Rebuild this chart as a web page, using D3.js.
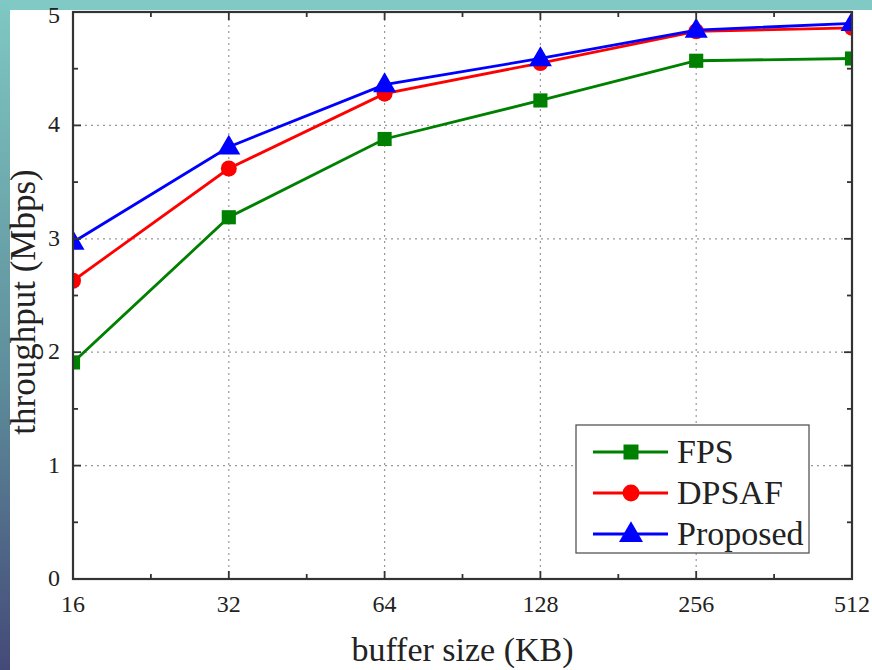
<!DOCTYPE html>
<html>
<head>
<meta charset="utf-8">
<script src="https://cdn.jsdelivr.net/npm/d3@7"></script>
<style>
  body { margin: 0; background: #fff; }
  svg { display: block; }
</style>
</head>
<body>
<script>
// datos
const bufferSizes = [16, 32, 64, 128, 256, 512];
const fps = [1.91, 3.19, 3.88, 4.22, 4.57, 4.59];
const dpsaf = [2.63, 3.62, 4.28, 4.55, 4.83, 4.86];
const proposed = [2.97, 3.81, 4.36, 4.59, 4.84, 4.90];
const yTicks = [0, 1, 2, 3, 4, 5];
const seriesNames = ["FPS", "DPSAF", "Proposed"];

const width = 872;
const height = 670;
const margin = { top: 12, right: 20, bottom: 91, left: 73 };

const svg = d3.select("body").append("svg")
  .attr("width", width)
  .attr("height", height);

// fondo de la diapositiva (franja arriba e izquierda)
const defs = svg.append("defs");
const grad = defs.append("linearGradient")
  .attr("id", "franja").attr("x1", 0).attr("y1", 0).attr("x2", 0).attr("y2", 1);
grad.append("stop").attr("offset", "0%").attr("stop-color", "#7fc8c3");
grad.append("stop").attr("offset", "55%").attr("stop-color", "#5f8f9c");
grad.append("stop").attr("offset", "100%").attr("stop-color", "#444a78");
svg.append("rect").attr("x", 0).attr("y", 0).attr("width", width).attr("height", 10).attr("fill", "#80c9c4");
svg.append("rect").attr("x", 0).attr("y", 0).attr("width", 10).attr("height", height).attr("fill", "url(#franja)");

const x = d3.scaleLog().base(2)
  .domain([16, 512])
  .range([margin.left, width - margin.right]);
const y = d3.scaleLinear()
  .domain([0, 5])
  .range([height - margin.bottom, margin.top]);

const x0 = x.range()[0], x1 = x.range()[1];
const y0 = y.range()[0], y1 = y.range()[1];
const minorX = bufferSizes.slice(0, -1).map(v => v * Math.SQRT2);
const minorY = yTicks.slice(0, -1).map(v => v + 0.5);

// rejilla punteada
const grid = svg.append("g")
  .attr("stroke", "#999").attr("stroke-width", 1.2).attr("stroke-dasharray", "2,4");
grid.selectAll(".gx").data(bufferSizes.slice(1, -1)).enter().append("line")
  .attr("x1", d => x(d)).attr("x2", d => x(d)).attr("y1", y0).attr("y2", y1);
grid.selectAll(".gy").data(yTicks.slice(1, -1)).enter().append("line")
  .attr("x1", x0).attr("x2", x1).attr("y1", d => y(d)).attr("y2", d => y(d));

// series
const colores = ["#008000", "#ff0000", "#0000ff"];
const valores = [fps, dpsaf, proposed];
defs.append("clipPath").attr("id", "area")
  .append("rect").attr("x", x0).attr("y", y1 - 20).attr("width", x1 - x0).attr("height", y0 - y1 + 20);

const plot = svg.append("g").attr("clip-path", "url(#area)");
const line = d3.line().x((d, i) => x(bufferSizes[i])).y(d => y(d));
const simbolos = [d3.symbolSquare, d3.symbolCircle, d3.symbolTriangle];
const tamaños = [200, 200, 230];

valores.forEach((serie, k) => {
  plot.append("path")
    .datum(serie)
    .attr("fill", "none")
    .attr("stroke", colores[k])
    .attr("stroke-width", 2.8)
    .attr("d", line);
  plot.selectAll(".m" + k).data(serie).enter().append("path")
    .attr("transform", (d, i) => `translate(${x(bufferSizes[i])},${y(d) + (k === 2 ? 1 : 0)})`)
    .attr("d", d3.symbol().type(simbolos[k]).size(tamaños[k]))
    .attr("fill", colores[k]);
});

// ejes (ticks hacia dentro)
const ejes = svg.append("g").attr("stroke", "#333").attr("fill", "none");
ejes.append("rect")
  .attr("x", x0).attr("y", y1).attr("width", x1 - x0).attr("height", y0 - y1)
  .attr("stroke-width", 2.2);
const tk = ejes.append("g").attr("stroke-width", 1.8);
bufferSizes.slice(1, -1).forEach(v => {
  tk.append("line").attr("x1", x(v)).attr("x2", x(v)).attr("y1", y0).attr("y2", y0 - 8);
  tk.append("line").attr("x1", x(v)).attr("x2", x(v)).attr("y1", y1).attr("y2", y1 + 8);
});
minorX.forEach(v => {
  tk.append("line").attr("x1", x(v)).attr("x2", x(v)).attr("y1", y0).attr("y2", y0 - 5);
  tk.append("line").attr("x1", x(v)).attr("x2", x(v)).attr("y1", y1).attr("y2", y1 + 5);
});
yTicks.slice(1, -1).forEach(v => {
  tk.append("line").attr("x1", x0).attr("x2", x0 + 8).attr("y1", y(v)).attr("y2", y(v));
  tk.append("line").attr("x1", x1).attr("x2", x1 - 8).attr("y1", y(v)).attr("y2", y(v));
});
minorY.forEach(v => {
  tk.append("line").attr("x1", x0).attr("x2", x0 + 5).attr("y1", y(v)).attr("y2", y(v));
  tk.append("line").attr("x1", x1).attr("x2", x1 - 5).attr("y1", y(v)).attr("y2", y(v));
});

// etiquetas
const fuente = "'Liberation Serif', 'Times New Roman', serif";
svg.selectAll(".lx").data(bufferSizes).enter().append("text")
  .attr("x", d => x(d)).attr("y", y0 + 33)
  .attr("text-anchor", "middle")
  .attr("font-family", fuente).attr("font-size", 24).attr("fill", "#222")
  .text(d => d);
svg.selectAll(".ly").data(yTicks).enter().append("text")
  .attr("x", x0 - 13).attr("y", d => Math.max(y(d) + 7, 23))
  .attr("text-anchor", "end")
  .attr("font-family", fuente).attr("font-size", 24).attr("fill", "#222")
  .text(d => d);

svg.append("text")
  .attr("x", (x0 + x1) / 2).attr("y", 661)
  .attr("text-anchor", "middle")
  .attr("font-family", fuente).attr("font-size", 34).attr("fill", "#222")
  .text("buffer size (KB)");
svg.append("text")
  .attr("transform", `translate(35,302) rotate(-90)`)
  .attr("text-anchor", "middle")
  .attr("font-family", fuente).attr("font-size", 35).attr("fill", "#222")
  .text("throughput (Mbps)");

// leyenda
const ley = svg.append("g").attr("transform", "translate(576,425)");
ley.append("rect").attr("width", 233).attr("height", 128)
  .attr("fill", "#fff").attr("stroke", "#555").attr("stroke-width", 1.3);
seriesNames.forEach((nombre, k) => {
  const cy = 27 + k * 41;
  ley.append("line").attr("x1", 17).attr("x2", 92).attr("y1", cy).attr("y2", cy)
    .attr("stroke", colores[k]).attr("stroke-width", 2.8);
  ley.append("path")
    .attr("transform", `translate(55,${cy + (k === 2 ? 1 : 0)})`)
    .attr("d", d3.symbol().type(simbolos[k]).size([225, 225, 250][k]))
    .attr("fill", colores[k]);
  ley.append("text").attr("x", 101).attr("y", cy + 11)
    .attr("font-family", fuente).attr("font-size", 34).attr("fill", "#222")
    .text(nombre);
});
</script>
</body>
</html>
